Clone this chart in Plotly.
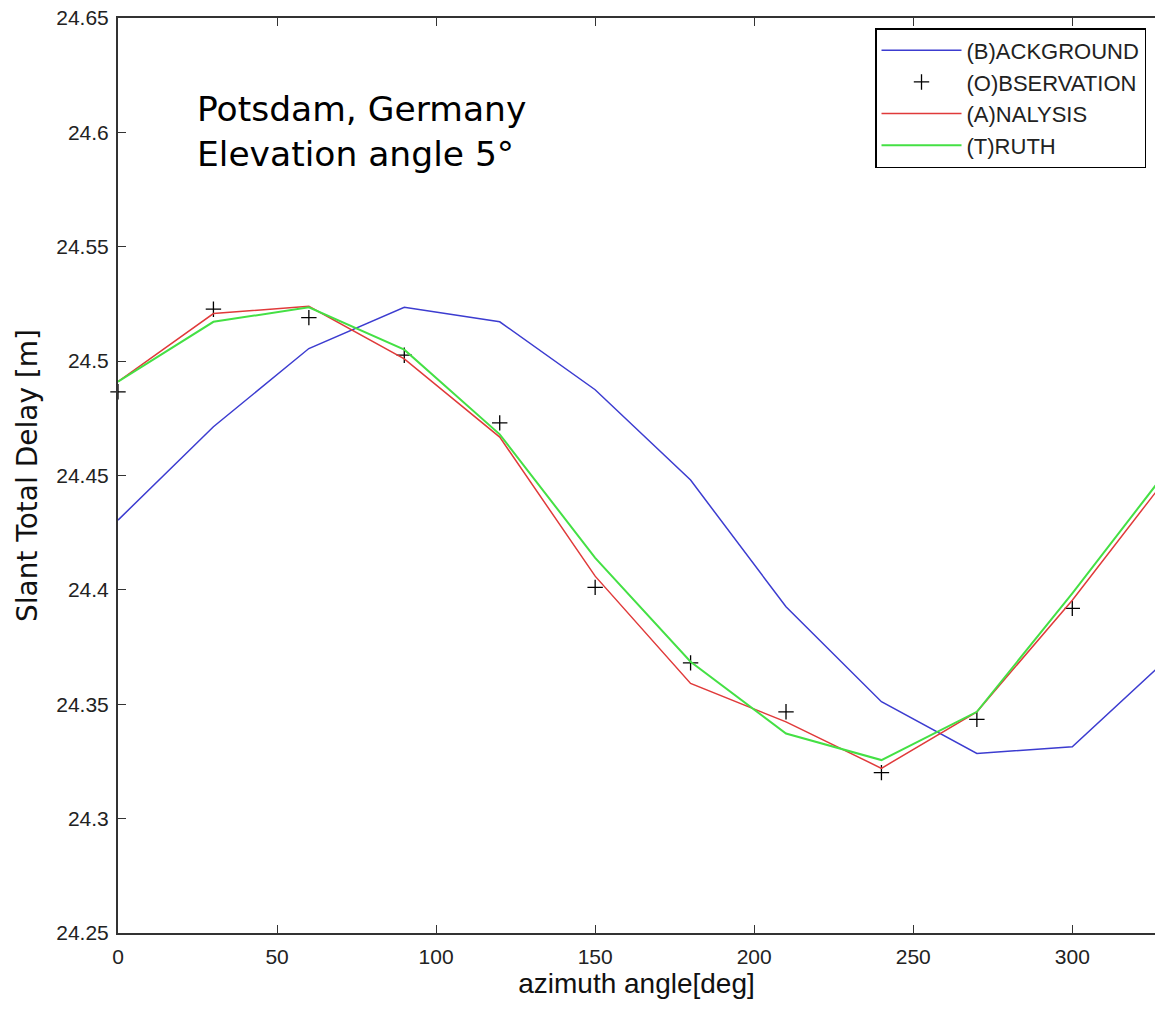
import plotly.graph_objects as go

azimuth = [0, 30, 60, 90, 120, 150, 180, 210, 240, 270, 300, 330]
background = [24.4305, 24.4713, 24.5055, 24.5235, 24.5172, 24.4875, 24.4480, 24.3926, 24.3511, 24.3285, 24.3314, 24.3700]
analysis = [24.4910, 24.5208, 24.5240, 24.5010, 24.4668, 24.4060, 24.3591, 24.3423, 24.3220, 24.3467, 24.3955, 24.4495]
truth = [24.4910, 24.5172, 24.5235, 24.5050, 24.4680, 24.4140, 24.3686, 24.3372, 24.3256, 24.3467, 24.3985, 24.4525]
obs_azimuth = [0, 30, 60, 90, 120, 150, 180, 210, 240, 270, 300]
observation = [24.4866, 24.5227, 24.5190, 24.5026, 24.4730, 24.4011, 24.3681, 24.3467, 24.3201, 24.3434, 24.3919]

y_ticks = [24.25, 24.3, 24.35, 24.4, 24.45, 24.5, 24.55, 24.6, 24.65]
y_tick_text = ["24.25", "24.3", "24.35", "24.4", "24.45", "24.5", "24.55", "24.6", "24.65"]
x_ticks = [0, 50, 100, 150, 200, 250, 300]

fig = go.Figure()
fig.add_trace(go.Scatter(x=azimuth, y=background, mode="lines", name="(B)ACKGROUND",
                         line=dict(color="#3c3cd0", width=1.5), legendgroup="b"))
fig.add_trace(go.Scatter(x=obs_azimuth, y=observation, mode="markers", name="(O)BSERVATION",
                         marker=dict(symbol="cross-thin", size=11, color="black",
                                     line=dict(color="black", width=1.3)),
                         cliponaxis=False, legendgroup="o"))
fig.add_trace(go.Scatter(x=azimuth, y=analysis, mode="lines", name="(A)NALYSIS",
                         line=dict(color="#e03a3a", width=1.5), legendgroup="a"))
fig.add_trace(go.Scatter(x=azimuth, y=truth, mode="lines", name="(T)RUTH",
                         line=dict(color="#44e044", width=2), legendgroup="t"))

fig.add_annotation(x=0.074, y=0.8755, xref="paper", yref="paper", xanchor="left", yanchor="middle",
                   text="Potsdam, Germany<br>Elevation angle 5°", align="left", showarrow=False,
                   font=dict(family="DejaVu Sans", size=34.5, color="black"))

axis_common = dict(showline=True, linecolor="#333", linewidth=2,
                   ticks="inside", ticklen=8, tickcolor="#333", showgrid=False, zeroline=False,
                   ticklabeloverflow="allow",
                   tickfont=dict(family="Liberation Sans", size=21, color="#222"))

fig.update_layout(
    width=1155, height=1009,
    margin=dict(l=118, r=0, t=18, b=76),
    plot_bgcolor="white", paper_bgcolor="white",
    xaxis=dict(range=[0, 326], tickvals=x_ticks, ticklabelstandoff=4, mirror="ticks",
               title=dict(text="azimuth angle[deg]", standoff=5,
                          font=dict(family="Liberation Sans", size=28, color="#111")),
               **axis_common),
    yaxis=dict(range=[24.25, 24.65], tickvals=y_ticks, ticktext=y_tick_text, ticklabelstandoff=3,
               mirror=False,
               title=dict(text="Slant Total Delay [m]", standoff=10,
                          font=dict(family="DejaVu Sans", size=28, color="#111")),
               **axis_common),
    legend=dict(x=0.73, y=0.989, xanchor="left", yanchor="top", bordercolor="black",
                borderwidth=1.5, bgcolor="white", tracegroupgap=0, traceorder="grouped",
                itemwidth=80,
                font=dict(family="Liberation Sans", size=22, color="#222")),
    showlegend=True,
)

fig.write_html("out.html", config={"displayModeBar": False},
               post_script="document.body.style.margin='0';document.body.style.overflow='hidden';")
